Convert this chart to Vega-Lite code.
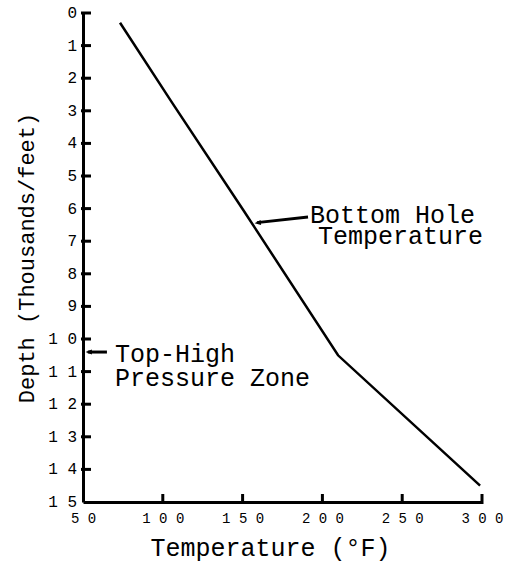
{
  "$schema": "https://vega.github.io/schema/vega-lite/v6.json",
  "width": 399,
  "height": 489,
  "autosize": "none",
  "padding": {"left": 83, "top": 13, "right": 23, "bottom": 72},
  "background": "white",
  "config": {
    "view": {"stroke": null},
    "font": "Liberation Mono",
    "axis": {"labelOverlap": false}
  },
  "layer": [
    {
      "data": {"values": [
        {"temp": 73.2, "depth": 0.3},
        {"temp": 105.8, "depth": 2.75},
        {"temp": 150.5, "depth": 6.05},
        {"temp": 209.8, "depth": 10.5},
        {"temp": 298.8, "depth": 14.5}
      ]},
      "mark": {"type": "line", "color": "black", "strokeWidth": 2.5},
      "encoding": {
        "x": {
          "field": "temp", "type": "quantitative",
          "scale": {"domain": [50, 300], "nice": false, "zero": false},
          "axis": {
            "grid": false,
            "ticks": false,
            "domainColor": "black",
            "domainWidth": 3,
            "labelColor": "black",
            "labelFont": "Liberation Mono",
            "labelFontSize": 14,
            "labelOverlap": false,
            "titleColor": "black",
            "titleFont": "Liberation Mono",
            "titleFontWeight": "normal",
            "title": "Temperature (°F)",
            "titleFontSize": 25,
            "titleX": 187,
            "titleY": 53,
            "titleBaseline": "alphabetic",
            "values": [50, 100, 150, 200, 250, 300],
            "labelExpr": "replace(datum.label, regexp('([0-9])(?=[0-9])', 'g'), '$1 ')",
            "labelPadding": 9,
            "labelFlush": false
          }
        },
        "y": {
          "field": "depth", "type": "quantitative",
          "scale": {"domain": [0, 15], "nice": false, "reverse": true},
          "axis": {
            "grid": false,
            "ticks": false,
            "labels": false,
            "domainColor": "black",
            "domainWidth": 3,
            "titleColor": "black",
            "titleFont": "Liberation Mono",
            "titleFontWeight": "normal",
            "title": "Depth (Thousands/feet)",
            "titleFontSize": 22,
            "titleX": -50,
            "titleBaseline": "alphabetic",
            "values": [0, 5, 10, 15]
          }
        }
      }
    },
    {
      "data": {"values": [
        {"depth": 0, "lab": "0"}, {"depth": 1, "lab": "1"}, {"depth": 2, "lab": "2"},
        {"depth": 3, "lab": "3"}, {"depth": 4, "lab": "4"}, {"depth": 5, "lab": "5"},
        {"depth": 6, "lab": "6"}, {"depth": 7, "lab": "7"}, {"depth": 8, "lab": "8"},
        {"depth": 9, "lab": "9"}, {"depth": 10, "lab": "1 0"}, {"depth": 11, "lab": "1 1"},
        {"depth": 12, "lab": "1 2"}, {"depth": 13, "lab": "1 3"}, {"depth": 14, "lab": "1 4"},
        {"depth": 15, "lab": "1 5"}
      ]},
      "layer": [
        {
          "mark": {"type": "text", "align": "right", "baseline": "middle", "dx": -6, "font": "Liberation Mono", "fontSize": 16, "color": "black"},
          "encoding": {
            "y": {"field": "depth", "type": "quantitative"},
            "x": {"datum": 50},
            "text": {"field": "lab"}
          }
        },
        {
          "transform": [{"filter": "datum.depth < 15"}],
          "mark": {"type": "tick", "orient": "horizontal", "color": "black", "thickness": 3, "size": 10, "opacity": 1, "xOffset": 3},
          "encoding": {
            "y": {"field": "depth", "type": "quantitative"},
            "x": {"datum": 50}
          }
        }
      ]
    },
    {
      "data": {"values": [
        {"temp": 100}, {"temp": 150}, {"temp": 200}, {"temp": 250}, {"temp": 300}
      ]},
      "mark": {"type": "tick", "orient": "vertical", "color": "black", "thickness": 3, "size": 10, "opacity": 1, "yOffset": -3},
      "encoding": {
        "x": {"field": "temp", "type": "quantitative"},
        "y": {"datum": 15}
      }
    },
    {
      "data": {"values": [
        {"temp": 191.0, "depth": 6.26, "temp2": 159.0, "depth2": 6.43},
        {"temp": 65.0, "depth": 10.4, "temp2": 53.0, "depth2": 10.4}
      ]},
      "mark": {"type": "rule", "color": "black", "strokeWidth": 3},
      "encoding": {
        "x": {"field": "temp", "type": "quantitative"},
        "y": {"field": "depth", "type": "quantitative"},
        "x2": {"field": "temp2"},
        "y2": {"field": "depth2"}
      }
    },
    {
      "data": {"values": [
        {"temp": 157.5, "depth": 6.45, "ang": -7},
        {"temp": 51.6, "depth": 10.4, "ang": 0}
      ]},
      "mark": {"type": "point", "shape": "M0,0L1,-0.4L1,0.4Z", "filled": true, "color": "black", "opacity": 1, "size": 160},
      "encoding": {
        "x": {"field": "temp", "type": "quantitative"},
        "y": {"field": "depth", "type": "quantitative"},
        "angle": {"field": "ang", "type": "quantitative", "scale": null}
      }
    },
    {
      "data": {"values": [
        {"temp": 192.2, "depth": 6.44, "label": "Bottom Hole"},
        {"temp": 197.2, "depth": 7.1, "label": "Temperature"},
        {"temp": 70.0, "depth": 10.71, "label": "Top-High"},
        {"temp": 70.0, "depth": 11.45, "label": "Pressure Zone"}
      ]},
      "mark": {"type": "text", "align": "left", "baseline": "alphabetic", "font": "Liberation Mono", "fontSize": 25, "color": "black"},
      "encoding": {
        "x": {"field": "temp", "type": "quantitative"},
        "y": {"field": "depth", "type": "quantitative"},
        "text": {"field": "label"}
      }
    }
  ]
}
